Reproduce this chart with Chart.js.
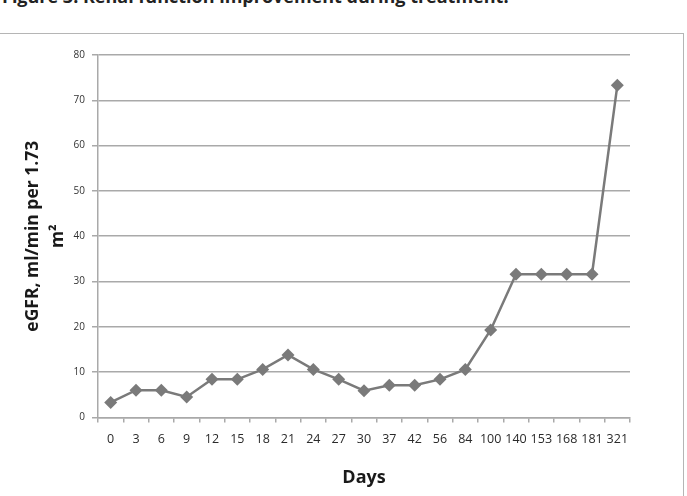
<!DOCTYPE html>
<html>
<head>
<meta charset="utf-8">
<script src="https://cdn.jsdelivr.net/npm/chart.js@4"></script>
<style>
    body { margin: 0; background: #fff; overflow: hidden; }
    #wrap { position: relative; width: 687px; height: 496px; }
    #caption {
        position: absolute; left: 2px; top: -16px;
        font: bold 18px "Open Sans", sans-serif; color: #222; white-space: nowrap;
    }
    #frame {
        position: absolute; left: -2px; top: 33px; width: 684px; height: 520px;
        border: 1.5px solid #b5b5b5;
    }
    canvas { position: absolute; left: 0; top: 0; }
</style>
</head>
<body>
<div id="wrap">
    <div id="caption">Figure 3. Renal function improvement during treatment.</div>
    <div id="frame"></div>
    <canvas id="egfrChart" width="687" height="496"></canvas>
</div>
<script>
// 측정일 (치료 후 일수)
const days = ['0', '3', '6', '9', '12', '15', '18', '21', '24', '27', '30',
    '37', '42', '56', '84', '100', '140', '153', '168', '181', '321'];

// eGFR 값
const egfrValues = [3.3, 6.0, 6.0, 4.5, 8.4, 8.4, 10.6, 13.8, 10.6, 8.4, 5.9,
    7.1, 7.1, 8.4, 10.6, 19.3, 31.6, 31.6, 31.6, 31.6, 73.3];

// y축 범위
const yMin = 0;
const yMax = 80;
const yStep = 10;

const gray = '#7a7a7a';
const gridGray = '#a9a9a9';

const ctx = document.getElementById('egfrChart').getContext('2d');

window.egfrChart = new Chart(ctx, {
    type: 'line',
    data: {
        labels: days,
        datasets: [{
            label: 'eGFR',
            data: egfrValues,
            borderColor: gray,
            borderWidth: 2.5,
            backgroundColor: gray,
            pointStyle: 'rectRot',
            pointRadius: 6.5,
            pointBackgroundColor: gray,
            pointBorderColor: gray,
            pointBorderWidth: 0,
            tension: 0
        }]
    },
    options: {
        responsive: false,
        animation: false,
        layout: {
            padding: { left: 0, right: 57, top: 55, bottom: 7 }
        },
        plugins: {
            legend: { display: false },
            tooltip: { enabled: false }
        },
        scales: {
            x: {
                offset: true,
                grid: {
                    offset: true,
                    drawOnChartArea: false,
                    drawTicks: true,
                    tickLength: 5,
                    color: gridGray,
                    lineWidth: 1.5
                },
                border: { display: true, color: gridGray, width: 1.5 },
                ticks: {
                    autoSkip: false,
                    maxRotation: 0,
                    minRotation: 0,
                    padding: 10,
                    color: '#2a2a2a',
                    font: { family: 'Open Sans', size: 12.5 }
                },
                title: {
                    display: true,
                    text: 'Days',
                    color: '#1a1a1a',
                    font: { family: 'Open Sans', size: 18, weight: 'bold' },
                    padding: { top: 10, bottom: 0 }
                }
            },
            y: {
                min: yMin,
                max: yMax,
                afterFit: function (scale) {
                    scale.width = 98;
                },
                grid: {
                    drawTicks: true,
                    tickLength: 6,
                    color: gridGray,
                    lineWidth: 1.5
                },
                border: { display: true, color: gridGray, width: 1.5 },
                ticks: {
                    stepSize: yStep,
                    padding: 7,
                    color: '#333',
                    font: { family: 'Open Sans', size: 10 }
                },
                title: {
                    display: true,
                    text: ['eGFR, ml/min per 1.73', 'm²'],
                    color: '#1a1a1a',
                    font: { family: 'Open Sans', size: 17.5, weight: 'bold', lineHeight: 1.45 },
                    padding: { top: 20, bottom: 0 }
                }
            }
        }
    }
});
</script>
</body>
</html>
